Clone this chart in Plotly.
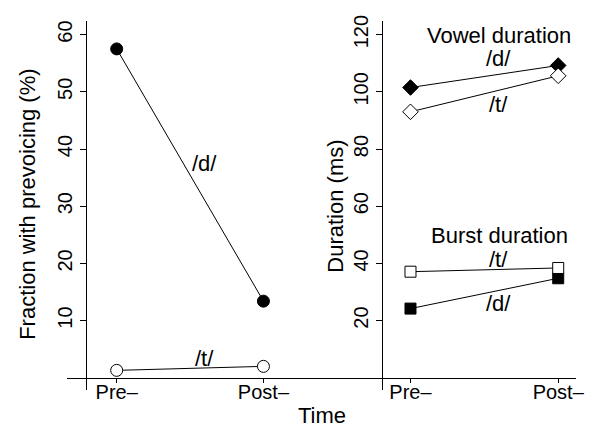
import plotly.graph_objects as go

# ---- data ----
time_labels = ["Pre–", "Post–"]
prevoice_d = [57.5, 13.4]
prevoice_t = [1.3, 2.0]
vowel_d = [101.5, 109.2]
vowel_t = [93.0, 105.6]
burst_t = [37.1, 38.4]
burst_d = [24.2, 34.8]
left_yticks = [10, 20, 30, 40, 50, 60]
right_yticks = [20, 40, 60, 80, 100, 120]

W, H = 602, 435
FONT = "Liberation Sans, Arial, sans-serif"
FS = 20
FA = 22


def px(x):
    return x / W


def py(y):
    return 1 - y / H


fig = go.Figure()


def add_line(x, y, xa, ya, symbol, fill, size):
    fig.add_trace(go.Scatter(
        x=x, y=y, xaxis=xa, yaxis=ya, mode="lines+markers",
        line=dict(color="black", width=1),
        marker=dict(symbol=symbol, size=size, color=fill,
                    line=dict(color="black", width=1)),
        showlegend=False, hoverinfo="skip", cliponaxis=False))


add_line(time_labels, prevoice_d, "x", "y", "circle", "black", 12)
add_line(time_labels, prevoice_t, "x", "y", "circle", "white", 12)
add_line(time_labels, vowel_d, "x2", "y2", "diamond", "black", 12)
add_line(time_labels, vowel_t, "x2", "y2", "diamond", "white", 12)
add_line(time_labels, burst_d, "x2", "y2", "square", "black", 11)
add_line(time_labels, burst_t, "x2", "y2", "square", "white", 11)

xcommon = dict(type="category", categoryorder="array", categoryarray=time_labels,
               anchor="free", position=py(377), showline=True, linecolor="black",
               linewidth=1, ticks="outside", ticklen=4, tickcolor="black",
               showgrid=False, zeroline=False, ticklabelstandoff=-8,
               tickfont=dict(family=FONT, size=FS, color="black"))
ycommon = dict(anchor="free", domain=[py(389), py(15)], showline=True,
               linecolor="black", linewidth=1, ticks="outside", ticklen=6,
               tickcolor="black", showgrid=False, zeroline=False, tickangle=-90,
               tickfont=dict(family=FONT, size=FS, color="black"))

fig.update_layout(
    width=W, height=H, margin=dict(l=0, r=0, t=0, b=0),
    plot_bgcolor="white", paper_bgcolor="white",
    xaxis=dict(xcommon, domain=[px(68), px(300)], range=[-0.338, 1.222]),
    xaxis2=dict(xcommon, domain=[px(300), px(584)], range=[-0.775, 1.122]),
    yaxis=dict(ycommon, position=px(86.7), range=[-12 / 5.8, 362 / 5.8],
               tickvals=left_yticks),
    yaxis2=dict(ycommon, position=px(386.7), range=[-12 / 2.9, 362 / 2.9],
                tickvals=right_yticks),
)


def note(text, x, y, angle=0):
    fig.add_annotation(text=text, x=px(x), y=py(y), xref="paper", yref="paper",
                       showarrow=False, textangle=angle, xanchor="center",
                       yanchor="middle",
                       font=dict(family=FONT, size=FA, color="black"))


note("Fraction with prevoicing (%)", 28, 201, -90)
note("Duration (ms)", 340, 203, -90)
note("Time", 326, 415)
note("Vowel duration", 506, 30)
note("/d/", 505, 53)
note("/t/", 505, 100)
note("Burst duration", 506, 233)
note("/t/", 505, 257)
note("/d/", 505, 302)
note("/d/", 207, 160)
note("/t/", 207, 357)

fig.write_html("out.html", config={"displayModeBar": False},
               post_script="document.body.style.margin='0px';")
